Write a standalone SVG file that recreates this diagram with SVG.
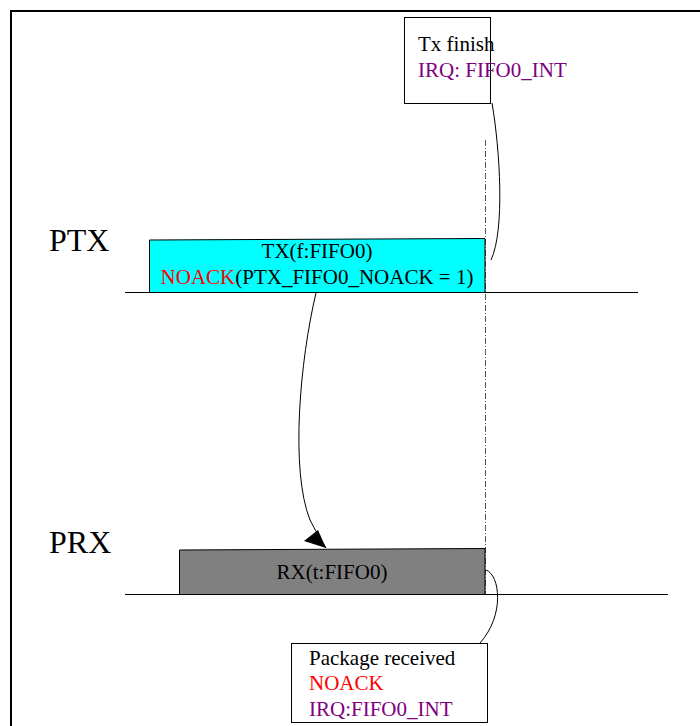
<svg xmlns="http://www.w3.org/2000/svg" width="700" height="726" viewBox="0 0 700 726">
<style>
text{font-family:"Liberation Serif","Times New Roman",serif;font-size:21px;fill:#000}
.big{font-size:32px}
.red{fill:#ff0000}
.pur{fill:#800080}
.box{stroke:#000;stroke-width:1}
.ln{stroke:#000;stroke-width:1;fill:none}
</style>
<rect x="11" y="11" width="700" height="730" fill="#fff" stroke="#000" stroke-width="2"/>
<g id="ptx-label"><text class="big" x="49" y="251">PTX</text></g>
<g id="prx-label"><text class="big" x="49" y="553">PRX</text></g>
<g id="connectors">
<line class="ln" x1="125" y1="292.5" x2="638" y2="292.5"/>
<line class="ln" x1="125" y1="594.5" x2="668" y2="594.5"/>
<line x1="485.5" y1="140" x2="485.5" y2="594" stroke="#555" stroke-width="1" stroke-dasharray="6,2,1,2"/>
<path class="ln" d="M492,103 C500,150 505,230 491,260"/>
<path class="ln" d="M316,293 C300,360 290,470 310,520 C315,530 320,538 326,548"/>
<path d="M326,548 L304,541 L318,530 z" fill="#000"/>
<path class="ln" d="M486,570 C500,575 505,615 480,643"/>
</g>
<g id="tx-finish">
<rect class="box" x="404.5" y="17.5" width="86" height="86" fill="#fff"/>
<text x="418" y="51">Tx finish</text>
<text class="pur" x="418" y="77">IRQ: FIFO0_INT</text>
</g>
<g id="tx">
<path class="box" d="M149.5,240 L485,238.5 L485,292.5 L149.5,292.5 z" fill="#00ffff"/>
<text x="317" y="258" text-anchor="middle">TX(f:FIFO0)</text>
<text x="317" y="284" text-anchor="middle"><tspan class="red">NOACK</tspan>(PTX_FIFO0_NOACK = 1)</text>
</g>
<g id="rx">
<path class="box" d="M179.5,550 L485,548.5 L485,594.5 L179.5,594.5 z" fill="#808080"/>
<text x="332" y="579" text-anchor="middle">RX(t:FIFO0)</text>
</g>
<g id="package-received">
<rect class="box" x="291.5" y="643.5" width="196" height="79" fill="#fff"/>
<text x="309" y="665">Package received</text>
<text class="red" x="309" y="690">NOACK</text>
<text class="pur" x="309" y="716">IRQ:FIFO0_INT</text>
</g>
</svg>
